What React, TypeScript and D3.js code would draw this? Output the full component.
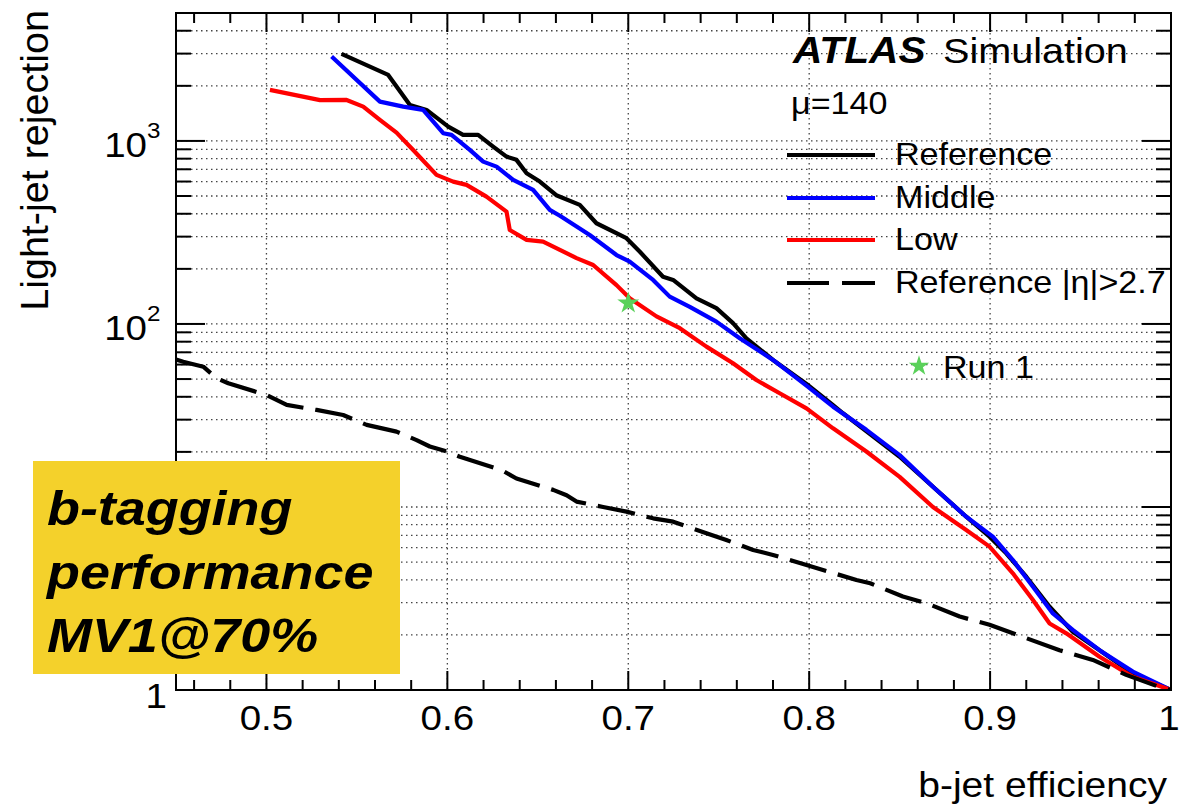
import React from 'react';
import * as d3 from 'd3';

// ---- data: b-jet efficiency vs light-jet rejection ----
const refEff = [0.5415, 0.5673, 0.5793, 0.5885, 0.6005, 0.6087, 0.617, 0.6253, 0.6327, 0.6382, 0.6438, 0.6511, 0.6602, 0.6732, 0.6824, 0.699, 0.7064, 0.7192, 0.7248, 0.7377, 0.7487, 0.7579, 0.7653, 0.78, 0.7985, 0.8132, 0.8187, 0.85, 0.8868, 0.8997, 0.9089, 0.92, 0.9329, 0.9457, 0.9605, 0.9789, 1.0];
const refRej = [2990, 2295, 1573, 1477, 1197, 1079, 1079, 931, 821, 788, 666, 600, 505, 447, 355, 294, 248, 181, 174, 138, 122, 101, 83.5, 63.6, 47, 36, 32.5, 18.8, 8.85, 6.88, 5.58, 4.16, 2.85, 2.08, 1.65, 1.23, 1.0];

const midEff = [0.536, 0.5627, 0.5756, 0.5866, 0.5922, 0.5977, 0.6023, 0.6124, 0.6198, 0.6272, 0.6364, 0.6474, 0.6566, 0.6622, 0.6787, 0.6935, 0.7008, 0.7137, 0.7229, 0.734, 0.7487, 0.7616, 0.78, 0.7985, 0.8132, 0.8316, 0.85, 0.8684, 0.8868, 0.9015, 0.9126, 0.9237, 0.9347, 0.9457, 0.9605, 0.9789, 1.0];
const midRej = [2890, 1640, 1540, 1477, 1276, 1102, 1079, 893, 771, 724, 612, 540, 420, 390, 306, 238, 219, 174, 141, 124, 103, 83.5, 63.6, 46, 35.3, 26.4, 19.2, 12.9, 8.85, 6.88, 5.13, 3.67, 2.62, 2.13, 1.65, 1.26, 1.0];

const lowEff = [0.5019, 0.5296, 0.5443, 0.5535, 0.5627, 0.5719, 0.5811, 0.594, 0.6032, 0.6106, 0.6216, 0.6327, 0.6345, 0.6438, 0.6529, 0.6622, 0.6714, 0.6806, 0.6935, 0.7008, 0.7156, 0.7285, 0.7432, 0.7579, 0.7708, 0.7837, 0.7985, 0.8132, 0.8316, 0.85, 0.8684, 0.8868, 0.8997, 0.9126, 0.9237, 0.9329, 0.9421, 0.9605, 0.9789, 1.0];
const lowRej = [1900, 1670, 1675, 1540, 1303, 1110, 893, 652, 599, 575, 496, 411, 326, 288, 282, 254, 229, 210, 163, 138, 110, 94.8, 75.2, 61, 49.4, 41.8, 34.6, 26.9, 20.1, 14.6, 10.0, 7.49, 6.07, 4.34, 3.1, 2.31, 2.04, 1.52, 1.18, 1.0];

const fwdEff = [0.45, 0.454, 0.4651, 0.4725, 0.4789, 0.5001, 0.5112, 0.5277, 0.5424, 0.5554, 0.5719, 0.583, 0.5903, 0.5996, 0.6069, 0.63, 0.6382, 0.6585, 0.6659, 0.6714, 0.6861, 0.699, 0.7137, 0.7248, 0.7432, 0.7542, 0.769, 0.78, 0.7985, 0.8261, 0.8337, 0.8518, 0.8648, 0.8832, 0.8997, 0.9126, 0.9384, 0.9568, 0.9752, 0.9934, 1.0];
const fwdRej = [64, 62.2, 58.4, 50.5, 47.4, 40.9, 36.1, 33.9, 31.8, 28.1, 25.8, 23.2, 21.4, 20.1, 18.8, 15.9, 14.3, 12.4, 11.6, 10.7, 10.0, 9.43, 8.67, 8.31, 7.18, 6.6, 5.82, 5.47, 4.82, 3.99, 3.83, 3.24, 2.98, 2.52, 2.27, 2.04, 1.65, 1.46, 1.21, 1.04, 1.0];

const run1Eff = [0.7];
const run1Rej = [130];

const xMajorTicks = [0.5, 0.6, 0.7, 0.8, 0.9, 1.0];
const xTickLabels = ['0.5', '0.6', '0.7', '0.8', '0.9', '1'];
const yDecades = [1, 10, 100, 1000];
// the 10^1 label sits under the highlight box, so only these are written
const yLabelDecades = [1, 100, 1000];
const yLabelExp = ['', '2', '3'];

const legendLabels = ['Reference', 'Middle', 'Low', 'Reference |\u03b7|>2.7'];
const legendColors = ['#000000', '#0000ff', '#ff0000', '#000000'];
const legendDashed = [false, false, false, true];

const boxLines = ['b-tagging', 'performance', 'MV1@70%'];

// ---- layout ----
const W = 1179;
const H = 809;
const L = 176, R = 1171, T = 13, B = 690;
const FONT = '"Liberation Sans", Arial, Helvetica, sans-serif';
const SX = 1.1;
const DASH = '38 12';

const x = d3.scaleLinear().domain([0.45, 1.0]).range([L, R]);
const y = d3.scaleLog().domain([1, 5000]).range([B, T]);

type TxtProps = {
  x: number; y: number; size: number; anchor?: string; weight?: string | number;
  italic?: boolean; fill?: string; children: React.ReactNode;
};
function Txt({ x: tx, y: ty, size, anchor = 'start', weight = 'normal', italic = false, fill = '#000', children }: TxtProps) {
  return (
    <text
      transform={`translate(${tx},${ty}) scale(${SX},1)`}
      fontSize={size}
      fontFamily={FONT}
      textAnchor={anchor as any}
      fontWeight={weight as any}
      fontStyle={italic ? 'italic' : 'normal'}
      fill={fill}
    >
      {children}
    </text>
  );
}

function makePath(xs: number[], ys: number[]) {
  const pts = xs.map((v, i) => [v, ys[i]] as [number, number]);
  return d3.line<[number, number]>().x(d => x(d[0])).y(d => y(d[1]))(pts) || '';
}

export default function App() {
  // minor x ticks every 0.02
  const xMinor = d3.range(0.46, 1.0, 0.02).map(v => +v.toFixed(2)).filter(v => Math.abs(v * 10 - Math.round(v * 10)) > 1e-6);
  // log minor ticks
  const yMinor: number[] = [];
  for (const dec of [1, 10, 100, 1000]) {
    for (let k = 2; k <= 9; k++) {
      const v = dec * k;
      if (v < 5000) yMinor.push(v);
    }
  }
  const yGrid = [...yMinor, 10, 100, 1000];
  const xGrid = [0.5, 0.6, 0.7, 0.8, 0.9];

  const star = d3.symbol().type(d3.symbolStar).size(150)() || '';
  const starSmall = d3.symbol().type(d3.symbolStar).size(130)() || '';

  const series = [
    { xs: refEff, ys: refRej, color: legendColors[0], dashed: legendDashed[0] },
    { xs: midEff, ys: midRej, color: legendColors[1], dashed: legendDashed[1] },
    { xs: lowEff, ys: lowRej, color: legendColors[2], dashed: legendDashed[2] },
    { xs: fwdEff, ys: fwdRej, color: legendColors[3], dashed: legendDashed[3] },
  ];

  const legendY = [155, 198, 240, 283];

  return (
    <svg width={W} height={H} style={{ position: 'absolute', left: 0, top: 0, background: '#fff' }}>
      <defs>
        <clipPath id="plotArea">
          <rect x={L} y={T} width={R - L} height={B - T} />
        </clipPath>
      </defs>
      <rect x={0} y={0} width={W} height={H} fill="#fff" />

      {/* grid */}
      <g stroke="#444" strokeWidth={1.3} strokeDasharray="1.5 3.5">
        {yGrid.map(v => (
          <line key={'gy' + v} x1={L} x2={R} y1={y(v)} y2={y(v)} />
        ))}
        {xGrid.map(v => (
          <line key={'gx' + v} x1={x(v)} x2={x(v)} y1={T} y2={B} />
        ))}
      </g>

      {/* curves */}
      <g clipPath="url(#plotArea)" fill="none" strokeWidth={4.2} strokeLinejoin="round">
        {series.map((s, i) => (
          <path key={'s' + i} d={makePath(s.xs, s.ys)} stroke={s.color} strokeDasharray={s.dashed ? DASH : undefined} />
        ))}
      </g>

      {/* Run 1 point */}
      {run1Eff.map((e, i) => (
        <path key={'r1' + i} d={star} transform={`translate(${x(e)},${y(run1Rej[i])})`} fill="#5ad15a" />
      ))}

      {/* frame and ticks */}
      <g stroke="#000" strokeWidth={2}>
        <rect x={L} y={T} width={R - L} height={B - T} fill="none" />
        {xMinor.map(v => (
          <g key={'xm' + v}>
            <line x1={x(v)} x2={x(v)} y1={B} y2={B - 10} />
            <line x1={x(v)} x2={x(v)} y1={T} y2={T + 10} />
          </g>
        ))}
        {xMajorTicks.map(v => (
          <g key={'xM' + v}>
            <line x1={x(v)} x2={x(v)} y1={B} y2={B - 19} />
            <line x1={x(v)} x2={x(v)} y1={T} y2={T + 19} />
          </g>
        ))}
        {yMinor.map(v => (
          <g key={'ym' + v}>
            <line x1={L} x2={L + 15} y1={y(v)} y2={y(v)} />
            <line x1={R} x2={R - 15} y1={y(v)} y2={y(v)} />
          </g>
        ))}
        {yDecades.map(v => (
          <g key={'yM' + v}>
            <line x1={L} x2={L + 29} y1={y(v)} y2={y(v)} />
            <line x1={R} x2={R - 29} y1={y(v)} y2={y(v)} />
          </g>
        ))}
      </g>

      {/* x tick labels */}
      {xMajorTicks.map((v, i) => (
        <Txt key={'xl' + v} x={i === xMajorTicks.length - 1 ? x(v) - 2 : x(v)} y={730} size={35} anchor="middle">{xTickLabels[i]}</Txt>
      ))}

      {/* y tick labels */}
      {yLabelDecades.map((v, i) =>
        i === 0 ? (
          <Txt key={'yl' + v} x={167} y={y(v) + 18} size={35} anchor="end">1</Txt>
        ) : (
          <g key={'yl' + v}>
            <Txt x={147} y={y(v) + 16} size={35} anchor="end">10</Txt>
            <Txt x={147} y={y(v) - 3} size={22} anchor="start">{yLabelExp[i]}</Txt>
          </g>
        )
      )}

      {/* axis titles */}
      <text
        transform={`translate(48,10) rotate(-90)`}
        fontSize={39.5}
        fontFamily={FONT}
        textAnchor="end"
      >
        Light-jet rejection
      </text>
      <Txt x={1167} y={797} size={35.5} anchor="end">b-jet efficiency</Txt>

      {/* ATLAS label and legend */}
      <Txt x={793} y={63} size={37} weight="bold" italic>ATLAS</Txt>
      <Txt x={943} y={63} size={36}>Simulation</Txt>
      <Txt x={791} y={114} size={31}>{'\u03bc=140'}</Txt>

      {legendLabels.map((lab, i) => (
        <g key={'lg' + i}>
          <line
            x1={787} x2={875} y1={legendY[i]} y2={legendY[i]}
            stroke={legendColors[i]} strokeWidth={4}
            strokeDasharray={legendDashed[i] ? '42 13' : undefined}
          />
          <Txt x={895} y={legendY[i] + 10} size={31}>{lab}</Txt>
        </g>
      ))}
      <path d={starSmall} transform="translate(919,366)" fill="#5ad15a" />
      <Txt x={943} y={378} size={31}>Run 1</Txt>

      {/* highlight box */}
      <rect x={33} y={461} width={367} height={213} fill="#f4d12b" />
      {boxLines.map((t, i) => (
        <Txt key={'bx' + i} x={47} y={525 + i * 63.5} size={49} weight="bold" italic>{t}</Txt>
      ))}
    </svg>
  );
}
